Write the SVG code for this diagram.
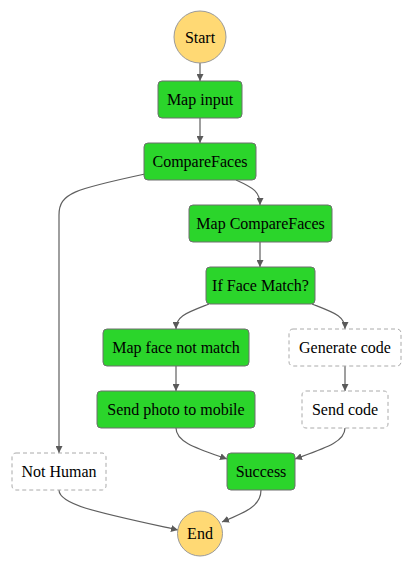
<svg xmlns="http://www.w3.org/2000/svg" width="414" height="569" viewBox="0 0 414 569">
<style>
.task{fill:#2bd52b;stroke:#6f6f6f;stroke-width:1}
.pass{fill:#ffffff;stroke:#aaaaaa;stroke-width:1;stroke-dasharray:4 3}
.term{fill:#ffd974;stroke:#9a9a9a;stroke-width:1}
.lbl{font-family:"Liberation Serif","Times New Roman",serif;font-size:16px;fill:#000;text-anchor:middle;dominant-baseline:central}
.edge{fill:none;stroke:#5f5f5f;stroke-width:1.2;marker-end:url(#arr)}
</style>
<defs>
<marker id="arr" markerWidth="7" markerHeight="7" refX="7" refY="3.5" orient="auto" markerUnits="userSpaceOnUse">
<path d="M0,0 L7,3.5 L0,7 z" fill="#5a5a5a"/>
</marker>
</defs>
<rect width="414" height="569" fill="#ffffff"/>
<g id="edges">
<path class="edge" d="M200 63 L200 81"/>
<path class="edge" d="M200 118 L200 143"/>
<path class="edge" d="M145 174 C 75 189, 59 193, 59 215 L59 453"/>
<path class="edge" d="M236 180 C 254 188, 260 192, 260 205"/>
<path class="edge" d="M260 242 L260 267"/>
<path class="edge" d="M209 304 C 186 313, 176 316, 176 329"/>
<path class="edge" d="M312 304 C 335 313, 345 316, 345 329"/>
<path class="edge" d="M176 366 L176 391"/>
<path class="edge" d="M345 366 L345 391"/>
<path class="edge" d="M176 428 C 176 442, 196 448, 227 459"/>
<path class="edge" d="M345 428 C 345 442, 325 448, 295 459"/>
<path class="edge" d="M59 490 C 59 505, 100 513, 178 530"/>
<path class="edge" d="M261 490 C 261 506, 246 512, 222 522"/>
</g>
<g id="start"><circle class="term" cx="200" cy="37" r="26"/><text class="lbl" x="200" y="37">Start</text></g>
<g id="mapInput"><rect class="task" x="158" y="81" width="84" height="37" rx="4"/><text class="lbl" x="200" y="99.5">Map input</text></g>
<g id="compareFaces"><rect class="task" x="144" y="143" width="112" height="37" rx="4"/><text class="lbl" x="200" y="161.5">CompareFaces</text></g>
<g id="mapCompareFaces"><rect class="task" x="189" y="205" width="143" height="37" rx="4"/><text class="lbl" x="260.5" y="223.5">Map CompareFaces</text></g>
<g id="ifFaceMatch"><rect class="task" x="206" y="267" width="109" height="37" rx="4"/><text class="lbl" x="260.5" y="285.5">If Face Match?</text></g>
<g id="mapFaceNotMatch"><rect class="task" x="103" y="329" width="146" height="37" rx="4"/><text class="lbl" x="176" y="347.5">Map face not match</text></g>
<g id="generateCode"><rect class="pass" x="289" y="329" width="112" height="37" rx="4"/><text class="lbl" x="345" y="347.5">Generate code</text></g>
<g id="sendPhoto"><rect class="task" x="97" y="391" width="158" height="37" rx="4"/><text class="lbl" x="176" y="409.5">Send photo to mobile</text></g>
<g id="sendCode"><rect class="pass" x="302" y="391" width="86" height="37" rx="4"/><text class="lbl" x="345" y="409.5">Send code</text></g>
<g id="notHuman"><rect class="pass" x="12" y="453" width="94" height="37" rx="4"/><text class="lbl" x="59" y="471.5">Not Human</text></g>
<g id="success"><rect class="task" x="227" y="453" width="68" height="37" rx="4"/><text class="lbl" x="261" y="471.5">Success</text></g>
<g id="end"><circle class="term" cx="200" cy="533.5" r="22.5"/><text class="lbl" x="200" y="533.5">End</text></g>
</svg>
